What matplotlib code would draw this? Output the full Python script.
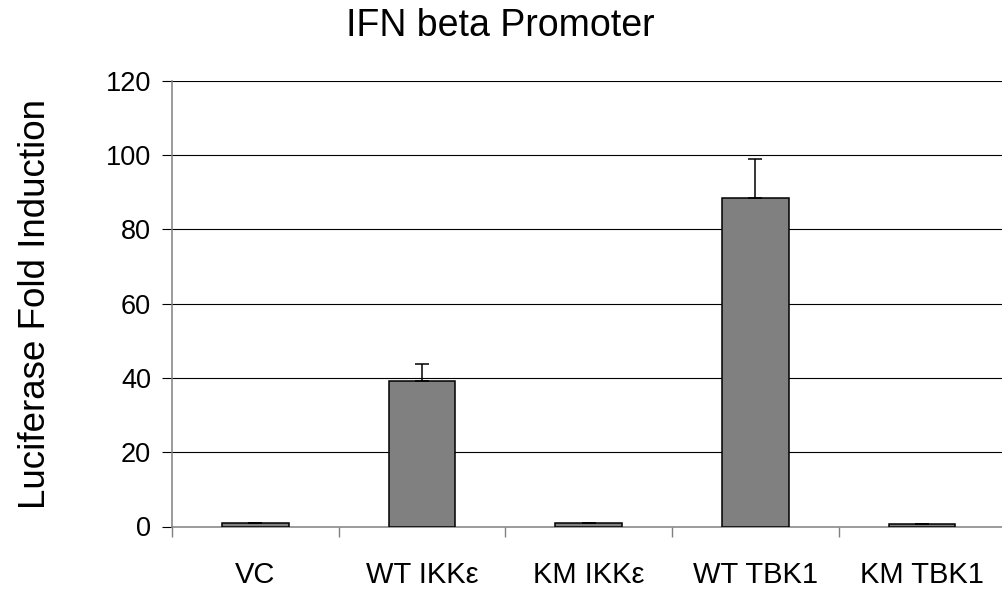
import matplotlib
matplotlib.use("Agg")
import matplotlib.pyplot as plt
import numpy as np

plt.rcParams['font.family'] = ['Liberation Sans', 'DejaVu Sans']

categories = ["VC", "WT IKKε", "KM IKKε", "WT TBK1", "KM TBK1"]
fold_induction = [1.0, 39.2, 1.0, 88.5, 0.6]
error_upper = [0.0, 4.5, 0.0, 10.5, 0.0]
y_ticks = [0, 20, 40, 60, 80, 100, 120]

fig = plt.figure(figsize=(10.03, 5.93), dpi=100)
ax = fig.add_axes([172 / 1003, 66.5 / 593, 833.5 / 1003, 445.8 / 593])

x = np.arange(len(categories))
ax.bar(x, fold_induction, width=0.4, color="#808080", edgecolor="black",
       linewidth=1.1, zorder=3)
yerr = np.array([np.zeros(len(error_upper)), error_upper])
ax.errorbar(x, fold_induction, yerr=yerr, fmt="none", ecolor="black",
            elinewidth=1.1, capsize=5, capthick=1.1, zorder=4)

ax.set_xlim(-0.5, len(categories) - 0.5)
ax.set_ylim(0, 120)

# horizontal gridlines
for v in y_ticks[1:]:
    ax.axhline(v, color="black", linewidth=0.8, zorder=1)

ax.set_yticks(y_ticks)
ax.set_yticklabels([str(v) for v in y_ticks], fontsize=19.5)
ax.tick_params(axis="y", direction="out", length=7, width=0.8,
               color="black", pad=8)

# category boundaries carry the tick marks, labels sit at the centres
ax.set_xticks(np.arange(-0.5, len(categories), 1.0))
ax.set_xticklabels([])
ax.set_xticks(x, minor=True)
ax.set_xticklabels(categories, minor=True, fontsize=21)
ax.tick_params(axis="x", which="major", direction="out", length=7,
               width=1.0, color="#808080")
ax.tick_params(axis="x", which="minor", length=0, pad=25)

for side in ("top", "right"):
    ax.spines[side].set_visible(False)
for side in ("left", "bottom"):
    ax.spines[side].set_color("#808080")
    ax.spines[side].set_linewidth(1.1)
    ax.spines[side].set_zorder(2)

ax.set_ylabel("Luciferase Fold Induction", fontsize=26.5, labelpad=38)
fig.text(500 / 1003, 1 - 26 / 593, "IFN beta Promoter", fontsize=27,
         ha="center", va="center")

fig.savefig("out.png", dpi=100)
